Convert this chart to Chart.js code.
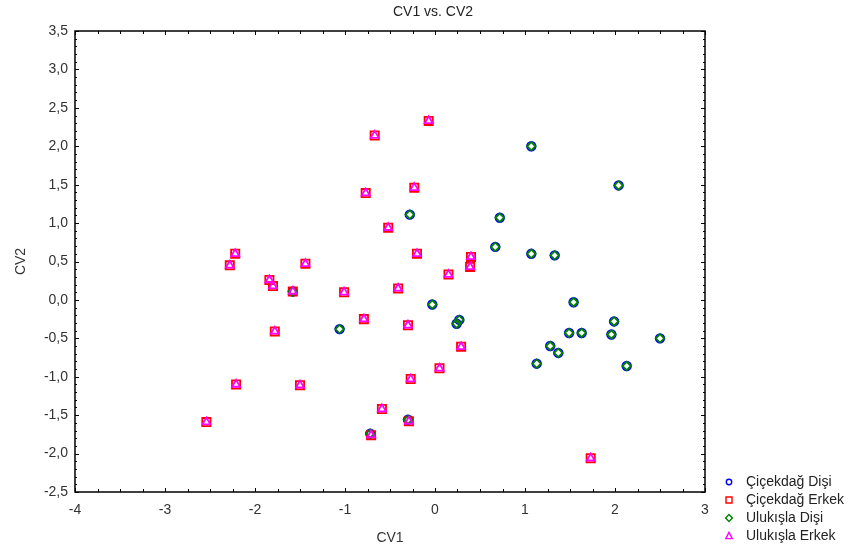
<!DOCTYPE html>
<html>
<head>
<meta charset="utf-8">
<script src="https://cdn.jsdelivr.net/npm/chart.js@4.4.1/dist/chart.umd.min.js"></script>
<style>
  html, body { margin: 0; padding: 0; background: #fff; }
</style>
</head>
<body>
<canvas id="scatter" width="866" height="554"></canvas>
<script>
// group names (legend order)
const groups = ["Çiçekdağ Dişi", "Çiçekdağ Erkek", "Ulukışla Dişi", "Ulukışla Erkek"];

// female scores (both locations sit on the same spots in the picture)
const disiCV1 = [1.07, 2.04, -0.28, 0.72, 0.67, 1.07, 1.33, -0.03, 1.54, -1.06, 0.27, 0.24,
  1.99, 1.49, 1.63, 1.96, 2.50, 1.28, 1.37, 1.13, 2.13, -0.30, -0.72, -1.58];
const disiCV2 = [2.00, 1.49, 1.11, 1.07, 0.69, 0.60, 0.58, -0.06, -0.03, -0.38, -0.26, -0.31,
  -0.28, -0.43, -0.43, -0.45, -0.50, -0.60, -0.69, -0.83, -0.86, -1.56, -1.74, 0.11];

// male scores
const erkekCV1 = [-0.07, -0.67, -0.77, -0.23, -0.52, -2.22, -2.28, -1.44, -0.20, 0.40, 0.39, 0.15,
  -1.84, -1.80, -0.41, -1.01, -0.79, -0.30, -1.78, 0.29, 0.05, -0.27, -2.21, -1.50,
  -0.59, -0.29, -0.71, -2.54, 1.73, -1.58];
const erkekCV2 = [2.33, 2.14, 1.39, 1.46, 0.94, 0.60, 0.45, 0.47, 0.60, 0.56, 0.43, 0.33,
  0.26, 0.18, 0.15, 0.10, -0.25, -0.33, -0.41, -0.61, -0.89, -1.03, -1.10, -1.11,
  -1.42, -1.58, -1.76, -1.59, -2.06, 0.11];

const toPoints = (xs, ys) => xs.map((v, i) => ({ x: v, y: ys[i] }));

const styles = [
  { color: "#0000ff", shape: "circle", radius: 4.3, order: 4 },
  { color: "#ff0000", shape: "rect", radius: 5.8, order: 3 },
  { color: "#008000", shape: "rectRot", radius: 4.2, order: 2 },
  { color: "#ff00ff", shape: "triangle", radius: 4.6, order: 1 },
];
const values = [
  toPoints(disiCV1, disiCV2),
  toPoints(erkekCV1, erkekCV2),
  toPoints(disiCV1, disiCV2),
  toPoints(erkekCV1, erkekCV2),
];

const font = "Liberation Sans, Arial, sans-serif";

//frame with inward ticks on all four sides
const frameTicks = {
  id: "frameTicks",
  afterDatasetsDraw(chart) {
    const { ctx, chartArea: a, scales: { x, y } } = chart;
    ctx.save();
    ctx.strokeStyle = "#000";
    ctx.lineWidth = 1;
    ctx.beginPath();
    for (let i = 0; i <= 28; i++) {
      const px = Math.round(x.getPixelForValue(-4 + i * 0.25)) + 0.5;
      const len = i % 4 === 0 ? 4 : 3;
      ctx.moveTo(px, a.bottom); ctx.lineTo(px, a.bottom - len);
      ctx.moveTo(px, a.top); ctx.lineTo(px, a.top + len);
    }
    for (let i = 0; i <= 60; i++) {
      const py = Math.round(y.getPixelForValue(-2.5 + i * 0.1)) + 0.5;
      const len = i % 5 === 0 ? 4 : 2;
      ctx.moveTo(a.left, py); ctx.lineTo(a.left + len, py);
      ctx.moveTo(a.right, py); ctx.lineTo(a.right - len, py);
    }
    ctx.stroke();
    ctx.lineWidth = 1.5;
    ctx.strokeRect(a.left, a.top, a.right - a.left, a.bottom - a.top);
    ctx.restore();
  },
};

//legend in the bottom right corner
const cornerLegend = {
  id: "cornerLegend",
  afterDraw(chart) {
    const ctx = chart.ctx;
    ctx.save();
    ctx.font = "14px " + font;
    ctx.textBaseline = "middle";
    chart.data.datasets.forEach((ds, i) => {
      const cx = 729, cy = 482 + i * 18;
      ctx.strokeStyle = ds.borderColor;
      ctx.lineWidth = 1.4;
      ctx.beginPath();
      if (ds.pointStyle === "circle") ctx.arc(cx, cy, 2.7, 0, Math.PI * 2);
      else if (ds.pointStyle === "rect") ctx.rect(cx - 3, cy - 3, 6, 6);
      else if (ds.pointStyle === "rectRot") {
        ctx.moveTo(cx, cy - 3.4); ctx.lineTo(cx + 3.4, cy);
        ctx.lineTo(cx, cy + 3.4); ctx.lineTo(cx - 3.4, cy); ctx.closePath();
      } else {
        ctx.moveTo(cx, cy - 3.6); ctx.lineTo(cx + 3.2, cy + 2.6);
        ctx.lineTo(cx - 3.2, cy + 2.6); ctx.closePath();
      }
      ctx.stroke();
      ctx.fillStyle = "#222";
      ctx.fillText(ds.label, 746, cy + 0.5);
    });
    ctx.restore();
  },
};

new Chart(document.getElementById("scatter"), {
  type: "scatter",
  plugins: [frameTicks, cornerLegend],
  data: {
    datasets: groups.map((g, i) => ({
      label: g,
      data: values[i],
      pointStyle: styles[i].shape,
      pointRadius: styles[i].radius,
      pointHoverRadius: styles[i].radius,
      borderColor: styles[i].color,
      backgroundColor: "rgba(0,0,0,0)",
      pointBorderWidth: 1.8,
      order: styles[i].order,
    })),
  },
  options: {
    responsive: false,
    animation: false,
    layout: { padding: 0 },
    plugins: {
      legend: { display: false },
      tooltip: { enabled: false },
      title: {
        display: true,
        text: "CV1 vs. CV2",
        color: "#222",
        font: { family: font, size: 14, weight: "normal" },
        padding: { top: 4, bottom: 10.2 },
      },
    },
    scales: {
      x: {
        type: "linear",
        min: -4,
        max: 3,
        afterFit: (s) => { s.height = 62; },
        grid: { display: false, drawTicks: false },
        border: { display: false },
        ticks: {
          stepSize: 1,
          padding: 10,
          color: "#333",
          font: { family: font, size: 14 },
        },
        title: {
          display: true,
          text: "CV1",
          color: "#333",
          font: { family: font, size: 14 },
          padding: { top: 0, bottom: 7 },
        },
      },
      y: {
        type: "linear",
        min: -2.5,
        max: 3.5,
        afterFit: (s) => { s.width = 75; },
        grid: { display: false, drawTicks: false },
        border: { display: false },
        ticks: {
          stepSize: 0.5,
          padding: 7,
          color: "#333",
          font: { family: font, size: 14 },
          callback: (v) => v.toFixed(1).replace(".", ","),
        },
        title: {
          display: true,
          text: "CV2",
          color: "#333",
          font: { family: font, size: 14 },
          padding: { top: 13, bottom: 0 },
        },
      },
      // empty strip on the right, holds room for the legend
      side: {
        type: "linear",
        position: "right",
        afterFit: (s) => { s.width = 161; },
        grid: { display: false, drawTicks: false },
        border: { display: false },
        ticks: { display: false },
      },
    },
  },
});
</script>
</body>
</html>
